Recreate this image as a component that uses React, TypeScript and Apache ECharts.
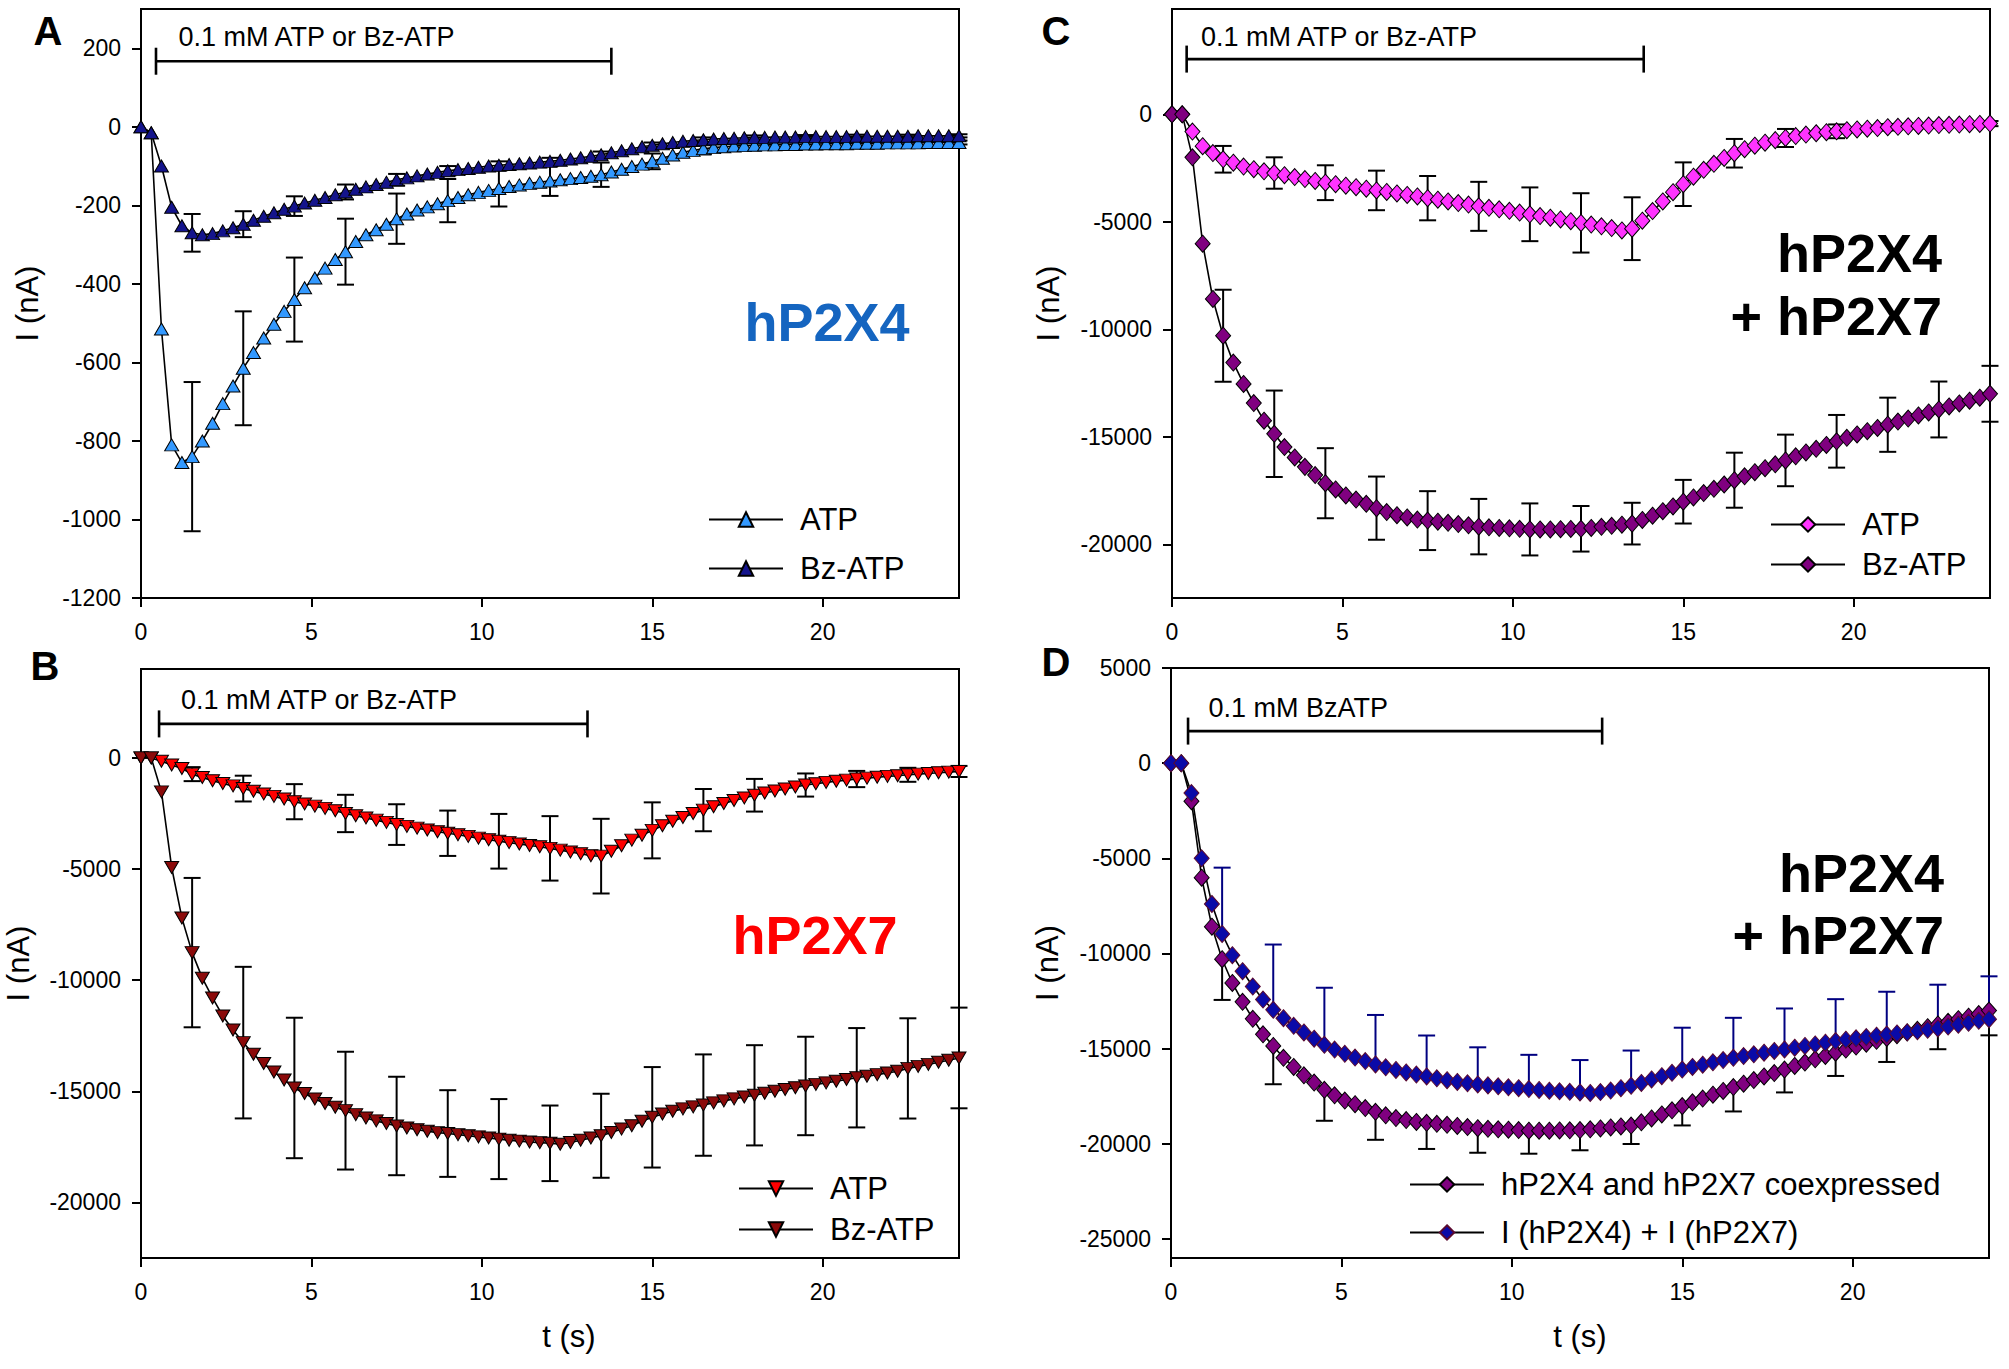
import React, { useEffect, useRef } from "react";
import * as echarts from "echarts";

const FONT = '"Liberation Sans", Arial, Helvetica, sans-serif';

const TIME = [
  0, 0.3, 0.6, 0.9, 1.2, 1.5, 1.8, 2.1, 2.4, 2.7,
  3.0, 3.3, 3.6, 3.9, 4.2, 4.5, 4.8, 5.1, 5.4, 5.7,
  6.0, 6.3, 6.6, 6.9, 7.2, 7.5, 7.8, 8.1, 8.4, 8.7,
  9.0, 9.3, 9.6, 9.9, 10.2, 10.5, 10.8, 11.1, 11.4, 11.7,
  12.0, 12.3, 12.6, 12.9, 13.2, 13.5, 13.8, 14.1, 14.4, 14.7,
  15.0, 15.3, 15.6, 15.9, 16.2, 16.5, 16.8, 17.1, 17.4, 17.7,
  18.0, 18.3, 18.6, 18.9, 19.2, 19.5, 19.8, 20.1, 20.4, 20.7,
  21.0, 21.3, 21.6, 21.9, 22.2, 22.5, 22.8, 23.1, 23.4, 23.7,
  24.0,
];

const ERR_T = [1.5, 3.0, 4.5, 6.0, 7.5, 9.0, 10.5, 12.0, 13.5, 15.0, 16.5, 18.0, 19.5, 21.0, 22.5, 24.0];

// Panel A (hP2X4)
const A_ATP = [
  0, -15, -515, -810, -855, -840, -800, -755, -705, -660,
  -615, -575, -538, -503, -470, -440, -410, -385, -360, -338,
  -318, -292, -275, -262, -248, -234, -222, -212, -204, -196,
  -188, -180, -173, -167, -162, -157, -152, -148, -144, -141,
  -138, -135, -132, -129, -126, -122, -115, -108, -101, -95,
  -88, -80, -72, -65, -60, -56, -53, -51, -49, -48,
  -47, -46, -46, -45, -45, -44, -44, -43, -43, -43,
  -42, -42, -42, -41, -41, -41, -41, -40, -40, -40,
  -40,
];
const A_BZ = [
  0, -15, -100, -205, -252, -270, -275, -272, -265, -257,
  -248, -238, -228, -219, -210, -202, -194, -187, -180, -173,
  -166, -159, -153, -147, -141, -135, -130, -125, -120, -116,
  -112, -109, -106, -103, -100, -98, -96, -94, -92, -90,
  -88, -85, -82, -79, -75, -71, -66, -61, -56, -51,
  -47, -43, -40, -37, -35, -33, -31, -30, -29, -28,
  -27, -27, -26, -26, -26, -25, -25, -25, -25, -25,
  -24, -24, -24, -24, -24, -24, -23, -23, -23, -23,
  -23,
];
const A_ATP_ERR = [190, 145, 107, 84, 64, 55, 46, 38, 31, 20, 14, 10, 8, 6, 5, 5];
const A_BZ_ERR = [48, 33, 25, 19, 15, 12, 10, 9, 8, 7, 6, 5, 4, 4, 4, 4];

// Panel B (hP2X7)
const B_ATP = [
  0, 0, -150, -320, -480, -730, -880, -1030, -1150, -1260,
  -1380, -1500, -1620, -1730, -1850, -1970, -2070, -2170, -2270, -2380,
  -2500, -2600, -2700, -2800, -2900, -3000, -3080, -3160, -3240, -3320,
  -3390, -3460, -3530, -3610, -3680, -3750, -3810, -3870, -3940, -4000,
  -4070, -4150, -4230, -4310, -4400, -4420, -4200, -3950, -3700, -3480,
  -3260, -3050, -2850, -2680, -2500, -2350, -2200, -2050, -1920, -1800,
  -1680, -1580, -1490, -1400, -1310, -1220, -1160, -1100, -1050, -1000,
  -950, -910, -870, -830, -800, -760, -730, -700, -670, -640,
  -610,
];
const B_BZ = [
  0, 0, -1530, -4930, -7200, -8760, -9910, -10800, -11610, -12240,
  -12810, -13330, -13750, -14130, -14490, -14850, -15100, -15350, -15550, -15720,
  -15870, -16050, -16200, -16330, -16450, -16560, -16650, -16730, -16800, -16860,
  -16900, -16950, -17000, -17050, -17100, -17150, -17200, -17240, -17280, -17310,
  -17340, -17380, -17300, -17200, -17100, -17000, -16850, -16700, -16550, -16350,
  -16170, -16020, -15900, -15790, -15700, -15620, -15520, -15430, -15340, -15260,
  -15180, -15090, -15000, -14920, -14840, -14760, -14690, -14620, -14550, -14470,
  -14390, -14320, -14250, -14180, -14100, -13970, -13880, -13790, -13690, -13600,
  -13500,
];
const B_ATP_ERR = [315, 580, 790, 840, 915, 1020, 1230, 1450, 1680, 1260, 950, 735, 520, 365, 315, 250];
const B_BZ_ERR = [3360, 3410, 3160, 2650, 2215, 1950, 1800, 1700, 1890, 2260, 2280, 2255, 2215, 2235, 2255, 2265];

// Panel C (hP2X4 + hP2X7); Bz-ATP is also the "coexpressed" trace of panel D
const C_ATP = [
  0, 0, -800, -1480, -1800, -2090, -2250, -2430, -2550, -2650,
  -2730, -2830, -2920, -3010, -3100, -3180, -3250, -3320, -3390, -3460,
  -3540, -3610, -3680, -3750, -3820, -3900, -3970, -4050, -4130, -4200,
  -4280, -4350, -4420, -4490, -4570, -4650, -4730, -4810, -4890, -4970,
  -5050, -5130, -5210, -5290, -5400, -5320, -4950, -4500, -4050, -3620,
  -3250, -2900, -2580, -2300, -2030, -1810, -1620, -1460, -1320, -1200,
  -1100, -1010, -940, -880, -830, -790, -740, -700, -670, -640,
  -600, -580, -560, -540, -520, -500, -490, -475, -460, -445,
  -430,
];
const C_BZ = [
  0, 0, -2000, -6020, -8590, -10300, -11550, -12540, -13430, -14250,
  -14860, -15480, -15960, -16400, -16780, -17160, -17450, -17730, -17920, -18120,
  -18320, -18500, -18650, -18750, -18850, -18900, -18950, -19000, -19060, -19120,
  -19180, -19210, -19240, -19260, -19280, -19310, -19310, -19310, -19300, -19290,
  -19280, -19240, -19190, -19140, -19090, -19040, -18870, -18670, -18460, -18240,
  -18020, -17820, -17620, -17420, -17220, -17020, -16840, -16650, -16460, -16280,
  -16100, -15910, -15730, -15560, -15380, -15210, -15050, -14890, -14740, -14590,
  -14440, -14290, -14150, -14010, -13870, -13730, -13590, -13450, -13320, -13180,
  -13000,
];
const C_ATP_ERR = [620, 730, 810, 920, 1030, 1140, 1250, 1380, 1460, 1015, 665, 420, 320, 150, 130, 120];
const C_BZ_ERR = [2140, 2010, 1630, 1470, 1370, 1290, 1210, 1060, 970, 1015, 1280, 1200, 1225, 1260, 1300, 1300];

// Panel D: I(hP2X4) + I(hP2X7)
const D_SUM = [
  0, 0, -1570, -5000, -7400, -8970, -10090, -10930, -11735, -12420,
  -12960, -13400, -13800, -14150, -14480, -14800, -15050, -15270, -15470, -15650,
  -15830, -15980, -16120, -16250, -16360, -16460, -16560, -16660, -16750, -16820,
  -16880, -16930, -16980, -17030, -17080, -17125, -17170, -17210, -17240, -17270,
  -17300, -17330, -17280, -17200, -17080, -16950, -16800, -16620, -16450, -16270,
  -16100, -15960, -15840, -15720, -15600, -15480, -15390, -15300, -15210, -15120,
  -15040, -14950, -14860, -14780, -14690, -14600, -14530, -14460, -14390, -14320,
  -14260, -14200, -14140, -14080, -14010, -13940, -13840, -13740, -13640, -13540,
  -13450,
];
const D_SUM_ERR = [3480, 3430, 3000, 2600, 2150, 1950, 1800, 1700, 1850, 2200, 2100, 2150, 2200, 2250, 2300, 2250];

const X_TICKS = [0, 5, 10, 15, 20];
const A_Y_TICKS = [200, 0, -200, -400, -600, -800, -1000, -1200];
const B_Y_TICKS = [0, -5000, -10000, -15000, -20000];
const C_Y_TICKS = [0, -5000, -10000, -15000, -20000];
const D_Y_TICKS = [5000, 0, -5000, -10000, -15000, -20000, -25000];

// stimulus bars: [start, end, level, textT, textLevel]
const BAR_A = [0.44, 13.8, 167, 1.1, 228];
const BAR_B = [0.53, 13.1, 1530, 1.17, 2625];
const BAR_C = [0.43, 13.84, 2570, 0.85, 3615];
const BAR_D = [0.5, 12.65, 1685, 1.1, 2880];
const BAR_TEXT = ["0.1 mM ATP or Bz-ATP", "0.1 mM ATP or Bz-ATP", "0.1 mM ATP or Bz-ATP", "0.1 mM BzATP"];

const LEGEND_LABELS: Record<string, string> = {
  A_ATP: "ATP",
  A_BZ: "Bz-ATP",
  B_ATP: "ATP",
  B_BZ: "Bz-ATP",
  C_ATP: "ATP",
  C_BZ: "Bz-ATP",
  D_CO: "hP2X4 and hP2X7 coexpressed",
  D_SUM: "I (hP2X4) + I (hP2X7)",
};

function pairs(vals: number[]) {
  return TIME.map((t, i) => [t, vals[i]]);
}

function errData(vals: number[], up: number[] | null, down: number[] | null) {
  return ERR_T.map((t, i) => [t, vals[TIME.indexOf(t)], up ? up[i] : 0, down ? down[i] : 0]);
}

function errSeries(idx: number, data: any[], color: string) {
  return {
    type: "custom",
    xAxisIndex: idx,
    yAxisIndex: idx,
    z: 1,
    silent: true,
    data,
    renderItem: (params: any, api: any) => {
      const x = api.value(0);
      const y = api.value(1);
      const up = api.value(2);
      const dn = api.value(3);
      const pT = api.coord([x, y + up]);
      const pB = api.coord([x, y - dn]);
      const hw = 8.5;
      const style = { stroke: color, lineWidth: 2 };
      const children: any[] = [
        { type: "line", shape: { x1: pT[0], y1: pT[1], x2: pB[0], y2: pB[1] }, style },
      ];
      if (up > 0) children.push({ type: "line", shape: { x1: pT[0] - hw, y1: pT[1], x2: pT[0] + hw, y2: pT[1] }, style });
      if (dn > 0) children.push({ type: "line", shape: { x1: pB[0] - hw, y1: pB[1], x2: pB[0] + hw, y2: pB[1] }, style });
      return { type: "group", children };
    },
  };
}

function barSeries(idx: number, bar: number[], text: string) {
  return {
    type: "custom",
    xAxisIndex: idx,
    yAxisIndex: idx,
    z: 4,
    silent: true,
    data: [bar],
    renderItem: (params: any, api: any) => {
      const p0 = api.coord([api.value(0), api.value(2)]);
      const p1 = api.coord([api.value(1), api.value(2)]);
      const pt = api.coord([api.value(3), api.value(4)]);
      const style = { stroke: "#000", lineWidth: 2.6 };
      const tk = 13.5;
      return {
        type: "group",
        children: [
          { type: "line", shape: { x1: p0[0], y1: p0[1], x2: p1[0], y2: p1[1] }, style },
          { type: "line", shape: { x1: p0[0], y1: p0[1] - tk, x2: p0[0], y2: p0[1] + tk }, style },
          { type: "line", shape: { x1: p1[0], y1: p1[1] - tk, x2: p1[0], y2: p1[1] + tk }, style },
          {
            type: "text",
            x: pt[0],
            y: pt[1],
            style: {
              text,
              fill: "#000",
              fontSize: 27,
              fontFamily: FONT,
              align: "left",
              verticalAlign: "middle",
            },
          },
        ],
      };
    },
  };
}

function lineSeries(name: string, idx: number, vals: number[], fill: string, symbol: string, rotate: number, size: any, border = "#000") {
  return {
    type: "line",
    name,
    xAxisIndex: idx,
    yAxisIndex: idx,
    data: pairs(vals),
    symbol,
    symbolRotate: rotate,
    symbolSize: size,
    showSymbol: true,
    showAllSymbol: true,
    z: 3,
    silent: true,
    lineStyle: { color: "#000", width: 1.6 },
    itemStyle: { color: fill, borderColor: border, borderWidth: 1 },
    emphasis: { disabled: true },
  };
}

const plain = (v: number) => String(v);

function xAxis(idx: number, withName: boolean, namePadLeft = 0) {
  return {
    type: "value",
    gridIndex: idx,
    min: 0,
    max: 24,
    name: withName ? "t (s)" : "",
    nameLocation: "middle",
    nameGap: 63,
    nameTextStyle: { fontSize: 31, fontFamily: FONT, color: "#000", padding: [0, 0, 0, namePadLeft] },
    axisLine: { show: true, onZero: false, lineStyle: { color: "#000", width: 2 } },
    axisTick: { show: true, inside: false, length: 9, lineStyle: { color: "#000", width: 2 }, customValues: X_TICKS },
    axisLabel: { show: true, margin: 22, fontSize: 23, fontFamily: FONT, color: "#000", customValues: X_TICKS, formatter: plain },
    splitLine: { show: false },
  };
}

function yAxis(idx: number, min: number, max: number, ticks: number[], gap: number) {
  return {
    type: "value",
    gridIndex: idx,
    min,
    max,
    name: "I (nA)",
    nameLocation: "middle",
    nameGap: gap,
    nameTextStyle: { fontSize: 31, fontFamily: FONT, color: "#000" },
    axisLine: { show: true, onZero: false, lineStyle: { color: "#000", width: 2 } },
    axisTick: { show: true, inside: false, length: 9, lineStyle: { color: "#000", width: 2 }, customValues: ticks },
    axisLabel: { show: true, margin: 20, fontSize: 23, fontFamily: FONT, color: "#000", customValues: ticks, formatter: plain },
    splitLine: { show: false },
  };
}

function legend(left: number, top: number, gap: number, data: string[]) {
  return {
    show: true,
    orient: "vertical",
    left,
    top,
    padding: 0,
    itemGap: gap,
    itemWidth: 74,
    itemHeight: 18,
    selectedMode: false,
    data,
    formatter: (n: string) => LEGEND_LABELS[n],
    textStyle: { fontSize: 31, lineHeight: 31, fontFamily: FONT, color: "#000", padding: [0, 0, 0, 12] },
  };
}

function bigText(x: number, y: number, text: string, color: string, size: number, align: string) {
  return {
    type: "text",
    x,
    y,
    silent: true,
    style: {
      text,
      fill: color,
      fontSize: size,
      fontWeight: "bold",
      fontFamily: FONT,
      align,
      verticalAlign: "middle",
      textAlign: align,
      textVerticalAlign: "middle",
    },
  };
}

export default function App() {
  const ref = useRef<HTMLDivElement>(null);
  useEffect(() => {
    if (!ref.current) return;
    const chart = echarts.init(ref.current, null, { renderer: "svg" });
    const gridBase = { show: true, borderColor: "#000", borderWidth: 2, backgroundColor: "transparent", containLabel: false, outerBoundsMode: "none" };
    const option: any = {
      animation: false,
      backgroundColor: "#fff",
      textStyle: { fontFamily: FONT },
      grid: [
        { ...gridBase, left: 141, top: 9, width: 818, height: 589 },
        { ...gridBase, left: 141, top: 669, width: 818, height: 589 },
        { ...gridBase, left: 1172, top: 9, width: 818, height: 589 },
        { ...gridBase, left: 1171, top: 668, width: 818, height: 590 },
      ],
      xAxis: [xAxis(0, false), xAxis(1, true, 38), xAxis(2, false), xAxis(3, true)],
      yAxis: [
        yAxis(0, -1200, 300, A_Y_TICKS, 98),
        yAxis(1, -22500, 4000, B_Y_TICKS, 107),
        yAxis(2, -22500, 4900, C_Y_TICKS, 108),
        yAxis(3, -26000, 5000, D_Y_TICKS, 108),
      ],
      legend: [
        legend(708, 504, 18, ["A_ATP", "A_BZ"]),
        legend(738, 1173, 10, ["B_ATP", "B_BZ"]),
        legend(1770, 509, 9, ["C_ATP", "C_BZ"]),
        legend(1409, 1169, 17, ["D_CO", "D_SUM"]),
      ],
      graphic: [
        bigText(48, 31, "A", "#000", 40, "center"),
        bigText(45, 666, "B", "#000", 40, "center"),
        bigText(1056, 31, "C", "#000", 40, "center"),
        bigText(1056, 662, "D", "#000", 40, "center"),
        bigText(827, 322, "hP2X4", "#1565C0", 54, "center"),
        bigText(815, 935, "hP2X7", "#FF0000", 54, "center"),
        bigText(1942, 253, "hP2X4", "#000", 54, "right"),
        bigText(1942, 316, "+ hP2X7", "#000", 54, "right"),
        bigText(1944, 873, "hP2X4", "#000", 54, "right"),
        bigText(1944, 935, "+ hP2X7", "#000", 54, "right"),
      ],
      series: [
        errSeries(0, errData(A_ATP, A_ATP_ERR, A_ATP_ERR), "#000"),
        errSeries(0, errData(A_BZ, A_BZ_ERR, A_BZ_ERR), "#000"),
        errSeries(1, errData(B_ATP, B_ATP_ERR, B_ATP_ERR), "#000"),
        errSeries(1, errData(B_BZ, B_BZ_ERR, B_BZ_ERR), "#000"),
        errSeries(2, errData(C_ATP, C_ATP_ERR, C_ATP_ERR), "#000"),
        errSeries(2, errData(C_BZ, C_BZ_ERR, C_BZ_ERR), "#000"),
        errSeries(3, errData(C_BZ, null, C_BZ_ERR), "#000"),
        errSeries(3, errData(D_SUM, D_SUM_ERR, null), "#000080"),
        lineSeries("A_ATP", 0, A_ATP, "#3399FF", "triangle", 0, [14, 12]),
        lineSeries("A_BZ", 0, A_BZ, "#14148C", "triangle", 0, [14, 12]),
        lineSeries("B_ATP", 1, B_ATP, "#FF0000", "triangle", 180, [14, 12]),
        lineSeries("B_BZ", 1, B_BZ, "#8B0A0A", "triangle", 180, [14, 12]),
        lineSeries("C_ATP", 2, C_ATP, "#FF33FF", "diamond", 0, [15, 17]),
        lineSeries("C_BZ", 2, C_BZ, "#800080", "diamond", 0, [15, 17]),
        lineSeries("D_CO", 3, C_BZ, "#800080", "diamond", 0, [15, 17]),
        lineSeries("D_SUM", 3, D_SUM, "#0A0AA8", "diamond", 0, [15, 17], "#5A0A30"),
        barSeries(0, BAR_A, BAR_TEXT[0]),
        barSeries(1, BAR_B, BAR_TEXT[1]),
        barSeries(2, BAR_C, BAR_TEXT[2]),
        barSeries(3, BAR_D, BAR_TEXT[3]),
      ],
    };
    chart.setOption(option);
    return () => chart.dispose();
  }, []);
  return (
    <div
      ref={ref}
      style={{ position: "absolute", left: 0, top: 0, width: "2009px", height: "1369px", background: "#fff" }}
    />
  );
}
